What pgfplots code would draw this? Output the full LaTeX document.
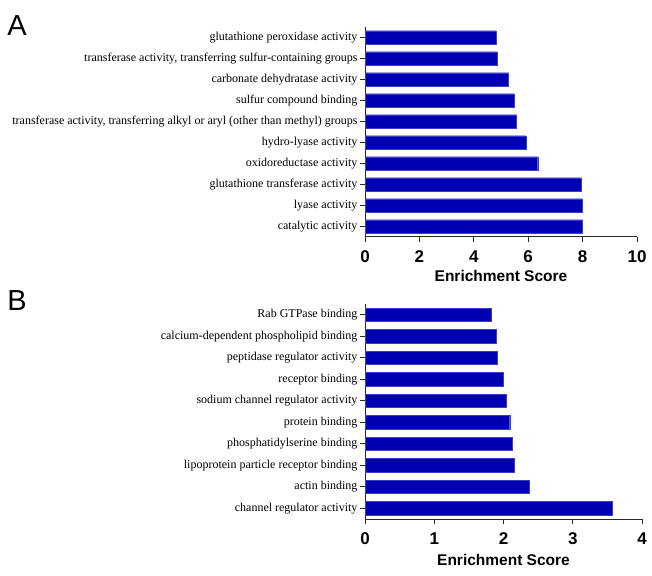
\documentclass[border=0pt]{standalone}
\usepackage{pgfplots}
\pgfplotsset{compat=1.18}
\usepackage{fontspec}
\setmainfont{Liberation Serif}
\newfontfamily\arialfont{Liberation Sans}
\definecolor{barblue}{RGB}{0,0,178}
\definecolor{baredge}{RGB}{60,60,200}
\definecolor{axgray}{RGB}{40,40,40}
\pgfplotsset{
  mybar/.style={
    scale only axis,
    xbar, y dir=reverse,
    bar width=13.5pt,
    axis x line*=bottom, axis y line*=left,
    axis line style={axgray, line width=1pt},
    tick style={axgray, line width=1pt},
    tick align=outside,
    major tick length=5pt,
    ytick={1,...,10},
    ymin=0.5, ymax=10.5,
    xmin=0,
    /pgf/number format/assume math mode=true,
    x tick label style={font=\arialfont\bfseries\fontsize{17}{17}\selectfont, yshift=-5pt},
    y tick label style={font=\fontsize{12}{14}\selectfont, xshift=1pt},
    xlabel={Enrichment Score},
    xlabel style={font=\arialfont\bfseries\fontsize{15.5}{15.5}\selectfont, at={(axis description cs:0.5,0)}, anchor=center},
    enlarge y limits=false,
  }
}
\begin{document}
\begin{tikzpicture}
\useasboundingbox (0,0) rectangle (652pt,575pt);
\node[font=\arialfont\fontsize{29}{29}\selectfont] at (17pt,549pt) {A};
\node[font=\arialfont\fontsize{29}{29}\selectfont] at (17pt,274pt) {B};
\begin{axis}[mybar,
  at={(365pt,338pt)}, anchor=south west,
  width=272pt, height=210pt,
  xmax=10, xtick={0,2,4,6,8,10},
  xlabel style={yshift=-39pt},
  yticklabels={glutathione peroxidase activity,
    {transferase activity, transferring sulfur-containing groups},
    carbonate dehydratase activity,
    sulfur compound binding,
    {transferase activity, transferring alkyl or aryl (other than methyl) groups},
    hydro-lyase activity,
    oxidoreductase activity,
    glutathione transferase activity,
    lyase activity,
    catalytic activity},
]
\addplot[fill=barblue, draw=baredge, line width=0.4pt] coordinates {
  (4.82,1) (4.85,2) (5.28,3) (5.49,4) (5.57,5) (5.91,6) (6.35,7) (7.94,8) (7.97,9) (8.00,10)};
\end{axis}
\begin{axis}[mybar,
  at={(365pt,56pt)}, anchor=south west,
  width=277pt, height=215pt,
  xmax=4, xtick={0,1,2,3,4},
  xlabel style={yshift=-41pt},
  yticklabels={Rab GTPase binding,
    calcium-dependent phospholipid binding,
    peptidase regulator activity,
    receptor binding,
    sodium channel regulator activity,
    protein binding,
    phosphatidylserine binding,
    lipoprotein particle receptor binding,
    actin binding,
    channel regulator activity},
]
\addplot[fill=barblue, draw=baredge, line width=0.4pt] coordinates {
  (1.82,1) (1.90,2) (1.91,3) (1.99,4) (2.04,5) (2.09,6) (2.12,7) (2.16,8) (2.37,9) (3.57,10)};
\end{axis}
\end{tikzpicture}
\end{document}
